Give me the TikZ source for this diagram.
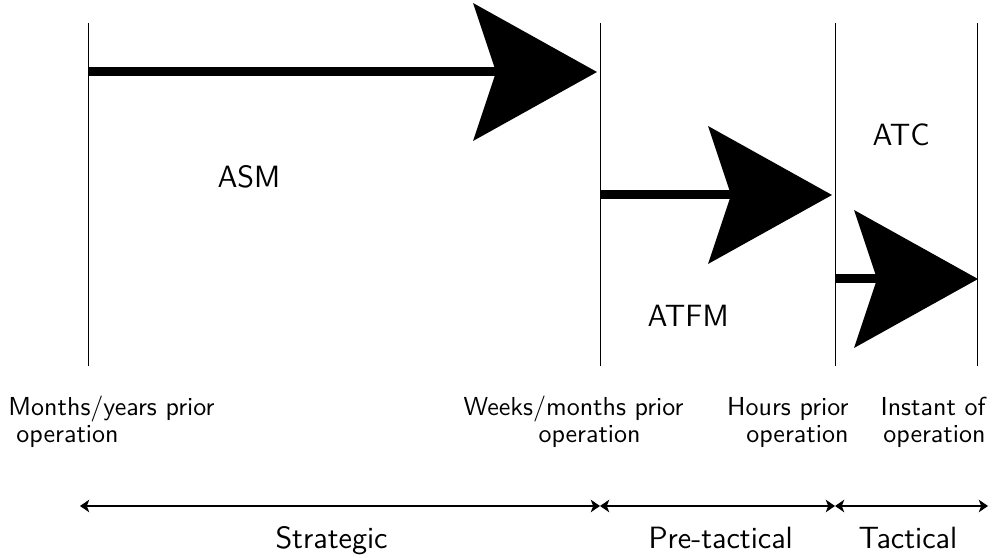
\documentclass[tikz,border=0pt]{standalone}
\usepackage{fontspec}
\usetikzlibrary{arrows.meta}
\begin{document}
\begin{tikzpicture}[x=0.4pt,y=-0.4pt,
  tick/.style={draw=black, line width=0.4pt},
  bigarrow/.style={line width=3.6pt, -{Stealth[length=49.6pt,width=55.2pt,inset=9.2pt,line width=0pt]}},
  spanarrow/.style={line width=0.6pt, {Stealth[length=3.7pt,width=5pt,inset=1pt]}-{Stealth[length=3.7pt,width=5pt,inset=1pt]}},
  phase/.style={font=\sffamily\fontsize{12.3}{14}\selectfont, inner sep=0pt, anchor=base west},
  lab/.style={font=\sffamily\fontsize{10.4}{10.8}\selectfont, inner sep=0pt, align=left, anchor=base west},
  labr/.style={font=\sffamily\fontsize{10.4}{10.8}\selectfont, inner sep=0pt, align=right, anchor=base east},
  cat/.style={font=\sffamily\fontsize{12.3}{14}\selectfont, inner sep=0pt, anchor=base west}]
\useasboundingbox (0,0) rectangle (993,558);
% vertical guide lines
\coordinate (t1) at (88,23);  \coordinate (b1) at (88,366);
\coordinate (t2) at (600,23); \coordinate (b2) at (600,366);
\coordinate (t3) at (835,23); \coordinate (b3) at (835,366);
\coordinate (t4) at (977,23); \coordinate (b4) at (977,366);
\draw[tick] (t1) -- (b1);
\draw[tick] (t2) -- (b2);
\draw[tick] (t3) -- (b3);
\draw[tick] (t4) -- (b4);
% big arrows
\coordinate (a1s) at (88,72);   \coordinate (a1e) at (597,72);
\coordinate (a2s) at (600,195);  \coordinate (a2e) at (832,195);
\coordinate (a3s) at (835,279);  \coordinate (a3e) at (978,279);
\draw[bigarrow] (a1s) -- (a1e);
\draw[bigarrow] (a2s) -- (a2e);
\draw[bigarrow] (a3s) -- (a3e);
% phase labels
\node[phase] (asm) at (217,188) {ASM};
\node[phase] (atfm) at (647,327) {ATFM};
\node[phase] (atc) at (872,146) {ATC};
% time labels
\node[lab] (l1) at (8,443) {Months/years prior\\\hspace*{3.2pt}operation};
\node[lab] (l2) at (463,443) {Weeks/months prior\\\hspace*{30pt}operation};
\node[labr] (l3) at (849,443) {Hours prior\\operation};
\node[labr] (l4) at (986,443) {Instant of\\operation};
% timeline
\coordinate (s0) at (80,506);
\coordinate (s1) at (600,506);
\coordinate (s2) at (835,506);
\coordinate (s3) at (988,506);
\draw[spanarrow] (s0) -- (s1);
\draw[spanarrow] (s1) -- (s2);
\draw[spanarrow] (s2) -- (s3);
\node[cat] (c1) at (275,548) {Strategic};
\node[cat] (c2) at (648,548) {Pre-tactical};
\node[cat] (c3) at (858,548) {Tactical};
\end{tikzpicture}
\end{document}
